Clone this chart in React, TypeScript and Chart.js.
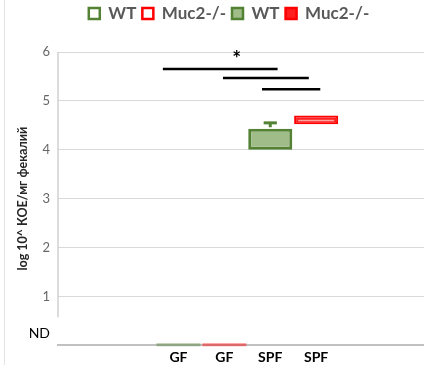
import React, { useEffect, useRef } from 'react';
import { Chart, registerables } from 'chart.js';

Chart.register(...registerables);

// ---- data ----
const categories = ['GF', 'GF', 'SPF', 'SPF'];
const categoryPositions = [1, 2, 3, 4];
const seriesNames = ['WT', 'Muc2-/-', 'WT', 'Muc2-/-'];
const boxLow = [0, 0, 4.0, 4.52];
const boxHigh = [0, 0, 4.43, 4.7];
const boxMedian: (number | null)[] = [null, null, null, 4.6];
const whiskerHigh: (number | null)[] = [null, null, 4.55, null];
const yTickValues = [1, 2, 3, 4, 5, 6];
const ndValue = 0.24;
const ndLabel = 'ND';
const axisBreakValue = 0.57;
const sigStart = [0.66, 1.97, 2.82];
const sigEnd = [3.16, 3.84, 4.09];
const sigLevel = [5.65, 5.47, 5.24];
const starX = 2.27;
const starY = 5.86;
const starLabel = '*';
const yTitle = 'log 10^ КОЕ/мг фекалий';

// ---- styles ----
const borderColors = ['#548235', '#ff0000', '#548235', '#ff0000'];
const fillColors = ['#ffffff', '#ffffff', '#a0bd89', '#ff1f1f'];
const FONT = 'Lato, "Open Sans", "DejaVu Sans", sans-serif';

const legendSpacer = {
  id: 'legendSpacer',
  beforeInit(chart: any) {
    const legend = chart.legend;
    if (!legend) return;
    const fit = legend.fit;
    legend.fit = function () {
      fit.call(this);
      this.height = 53;
    };
  },
};

const extras = {
  id: 'boxExtras',
  afterDatasetsDraw(chart: any) {
    const { ctx, scales, chartArea } = chart;
    const x = scales.x;
    const y = scales.y;
    ctx.save();
    // broken left axis line
    ctx.strokeStyle = '#d0d0d0';
    ctx.lineWidth = 1.5;
    ctx.beginPath();
    ctx.moveTo(chartArea.left, y.getPixelForValue(y.max));
    ctx.lineTo(chartArea.left, y.getPixelForValue(axisBreakValue));
    ctx.stroke();

    seriesNames.forEach((_, i) => {
      const bar = chart.getDatasetMeta(i).data[0];
      if (!bar) return;
      const half = bar.width / 2;
      if (boxHigh[i] === boxLow[i]) {
        ctx.save();
        ctx.globalAlpha = 0.45;
        ctx.strokeStyle = borderColors[i];
        ctx.lineWidth = 3;
        const py = y.getPixelForValue(boxLow[i]) - 0.5;
        ctx.beginPath();
        ctx.moveTo(bar.x - half, py);
        ctx.lineTo(bar.x + half, py);
        ctx.stroke();
        ctx.restore();
      }
      const wh = whiskerHigh[i];
      if (wh !== null) {
        ctx.strokeStyle = borderColors[i];
        ctx.lineWidth = 3;
        const top = y.getPixelForValue(wh);
        ctx.beginPath();
        ctx.moveTo(bar.x, y.getPixelForValue(boxHigh[i]) - 1.5);
        ctx.lineTo(bar.x, top);
        ctx.stroke();
        ctx.beginPath();
        ctx.moveTo(bar.x - half * 0.3, top);
        ctx.lineTo(bar.x + half * 0.3, top);
        ctx.stroke();
      }
      const md = boxMedian[i];
      if (md !== null) {
        ctx.strokeStyle = '#ffa3a3';
        ctx.lineWidth = 1.5;
        const py = y.getPixelForValue(md);
        ctx.beginPath();
        ctx.moveTo(bar.x - half + 4, py);
        ctx.lineTo(bar.x + half - 4, py);
        ctx.stroke();
      }
    });

    // significance bars
    ctx.strokeStyle = '#000';
    ctx.lineWidth = 2.5;
    sigLevel.forEach((lv, i) => {
      const py = y.getPixelForValue(lv);
      ctx.beginPath();
      ctx.moveTo(x.getPixelForValue(sigStart[i]), py);
      ctx.lineTo(x.getPixelForValue(sigEnd[i]), py);
      ctx.stroke();
    });
    ctx.fillStyle = '#000';
    ctx.font = `bold 21px ${FONT}`;
    ctx.textAlign = 'center';
    ctx.textBaseline = 'middle';
    ctx.fillText(starLabel, x.getPixelForValue(starX), y.getPixelForValue(starY));
    ctx.restore();
  },
};

export default function App() {
  const ref = useRef<HTMLCanvasElement | null>(null);

  useEffect(() => {
    const canvas = ref.current;
    if (!canvas) return;
    const chart = new Chart(canvas, {
      type: 'bar',
      data: {
        datasets: seriesNames.map((name, i) => ({
          label: name,
          data: [{ x: categoryPositions[i], y: [boxLow[i], boxHigh[i]] }],
          backgroundColor: fillColors[i],
          borderColor: borderColors[i],
          borderWidth: i === 3 ? 2 : 3,
          borderSkipped: false,
          grouped: false,
          barPercentage: 0.96,
          categoryPercentage: 1,
        })) as any,
      },
      options: {
        responsive: false,
        animation: false,
        layout: { padding: { top: -1, right: -34, left: 0, bottom: -5 } },
        plugins: {
          tooltip: { enabled: false },
          legend: {
            position: 'top',
            labels: {
              boxWidth: 11,
              boxHeight: 11,
              padding: 6,
              color: '#595959',
              font: { family: FONT, size: 17, weight: 'bold' },
              generateLabels: (c: any) =>
                (Chart.defaults.plugins.legend.labels as any)
                  .generateLabels(c)
                  .map((it: any) => ({ ...it, lineWidth: 2.5 })),
            },
          },
        },
        scales: {
          x: {
            type: 'linear',
            offset: false,
            bounds: 'data',
            min: -1.625,
            max: 6.35,
            grid: { display: false, drawTicks: false, offset: false },
            border: { color: '#c0c0c0', width: 2 },
            afterBuildTicks: (s: any) => {
              s.ticks = categoryPositions.map((v) => ({ value: v }));
            },
            ticks: {
              autoSkip: false,
              maxRotation: 0,
              padding: 4,
              color: '#000',
              font: { family: FONT, size: 14, weight: 'bold' },
              callback: (v: any) => {
                const k = categoryPositions.indexOf(Number(v));
                return k >= 0 ? categories[k] : '';
              },
            },
          },
          y: {
            min: 0,
            max: 6,
            afterBuildTicks: (s: any) => {
              s.ticks = [ndValue, ...yTickValues].map((v) => ({ value: v }));
            },
            afterFit: (s: any) => {
              s.width = 58;
            },
            grid: {
              drawTicks: false,
              color: (c: any) => (c.tick && c.tick.value === ndValue ? 'rgba(0,0,0,0)' : '#d9d9d9'),
            },
            border: { display: false },
            ticks: {
              padding: 8,
              color: (c: any) => (c.tick && c.tick.value === ndValue ? '#000' : '#666'),
              font: (c: any) => ({ family: FONT, size: c.tick && c.tick.value === ndValue ? 14 : 13 }),
              callback: (v: any) => (Number(v) === ndValue ? ndLabel : String(v)),
            },
            title: {
              display: true,
              text: yTitle,
              color: '#262626',
              font: { family: FONT, size: 12.5, weight: 'bold' },
              padding: { top: 15, bottom: 0 },
            },
          },
        },
      } as any,
      plugins: [legendSpacer, extras],
    });
    return () => chart.destroy();
  }, []);

  return (
    <div style={{ position: 'fixed', left: 0, top: 0, width: 424, height: 365, background: '#fff', overflow: 'hidden' }}>
      <div style={{ position: 'absolute', left: 4, top: 0, width: 1, height: 365, background: '#e3e3e3' }} />
      <canvas ref={ref} width={424} height={365} style={{ position: 'absolute', left: 0, top: 0 }} />
    </div>
  );
}
